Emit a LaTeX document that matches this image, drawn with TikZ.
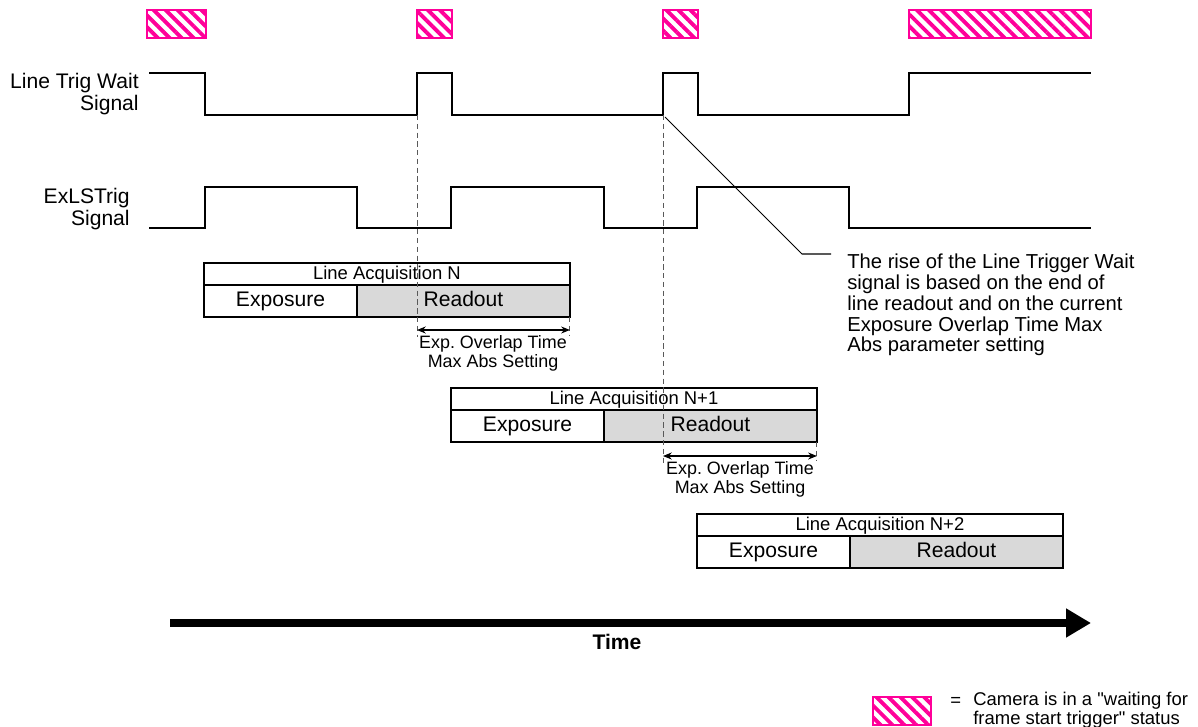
\documentclass[tikz,border=0pt]{standalone}
\usepackage{fontspec}
\setmainfont{Liberation Sans}[Ligatures=TeXOff]
\usetikzlibrary{arrows.meta,patterns.meta,positioning}
\definecolor{waitpink}{RGB}{255,0,153}
\definecolor{readgray}{RGB}{217,217,217}

\begin{document}
\begin{tikzpicture}[x=0.02cm,y=-0.02cm,
  waitbox/.style={draw=waitpink,line width=1.6pt,pattern={Lines[angle=-45,distance=4.8pt,line width=2.2pt]},pattern color=waitpink},
  sig/.style={line width=1.7pt},
  siglabel/.style={align=right,anchor=east,inner sep=0pt,font=\fontsize{12}{12.5}\selectfont},
  acqtitle/.style={draw,fill=white,line width=0.8pt,inner sep=0pt,outer sep=0pt,minimum width=7.32cm,minimum height=0.44cm,text height=1.6ex,text depth=0.4ex,font=\fontsize{10.5}{12}\selectfont},
  acqcell/.style={draw,line width=0.8pt,inner sep=0pt,outer sep=0pt,minimum height=0.64cm,text height=1.6ex,text depth=0.4ex,font=\fontsize{12}{14}\selectfont},
  guide/.style={dashed,gray!70!black,line width=0.5pt,dash pattern=on 3pt off 2pt},
  span/.style={{Stealth[length=5pt,width=4pt]}-{Stealth[length=5pt,width=4pt]},line width=0.6pt},
  spannote/.style={align=center,anchor=north,inner sep=0pt,font=\fontsize{10.2}{11}\selectfont}]
\useasboundingbox (0,0) rectangle (1198,727);

\foreach \xa/\xb in {147/206,417/452,663/698,909/1091}
  \draw[waitbox] (\xa,10) rectangle (\xb,38);

\node[siglabel] (waitlabel) at (139,94) {Line Trig Wait\\Signal};
\node[siglabel] (triglabel) at (130,209) {ExLSTrig\\Signal};

\draw[sig] (149,73) -| (205,115) -| (417,73) -| (452,115) -| (663,73) -| (698,115) -| (909,73) -- (1091,73);
\draw[sig] (149,228) -| (205,187) -| (357,228) -| (451,187) -| (604,228) -| (697,187) -| (849,228) -- (1091,228);

\foreach \n/\xa/\ya/\lab in {0/204/263/N,1/451/388/N+1,2/697/514/N+2} {
  \node[acqtitle,anchor=north west] (title\n) at (\xa,\ya) {Line Acquisition \lab};
  \node[acqcell,minimum width=3.06cm,anchor=north west] (exp\n) at (title\n.south west) {Exposure};
  \node[acqcell,minimum width=4.26cm,fill=readgray,anchor=north west] (read\n) at (exp\n.north east) {Readout};
}

\coordinate (riseA) at (417,115);
\coordinate (riseB) at (663,115);
\coordinate (ovA) at (417,330);
\coordinate (ovB) at (663,456);

\draw[guide] (riseA) -- (417,337);
\draw[guide] (read0.south east) -- ++(0,19);
\draw[span] (ovA) -- (ovA -| read0.east);
\node[spannote] (ovnoteA) at (493,335) {Exp.\ Overlap Time\\Max Abs Setting};

\draw[guide] (riseB) -- (663,463);
\draw[guide] (read1.south east) -- ++(0,19);
\draw[span] (ovB) -- (ovB -| read1.east);
\node[spannote] (ovnoteB) at (740,461) {Exp.\ Overlap Time\\Max Abs Setting};

\coordinate (elbow) at (802,254);
\node[anchor=north west,align=left,inner sep=0pt,font=\fontsize{11.5}{11.8}\selectfont] (risenote) at (847,254)
  {The rise of the Line Trigger Wait\\signal is based on the end of\\line readout and on the current\\Exposure Overlap Time Max\\Abs parameter setting};
\draw[line width=0.6pt] (665,117) -- (elbow) -- (831,254);

\coordinate (tstart) at (170,623);
\coordinate (tend) at (1091,623);
\draw[line width=4pt,-{Triangle[length=0.5cm,width=0.55cm]}] (tstart) -- (tend);
\node[font=\bfseries\fontsize{12}{14}\selectfont] (timelabel) at (617,642) {Time};

\draw[waitbox] (873,697) rectangle (931,725);
\node[anchor=west,inner sep=0pt,font=\fontsize{10.5}{10}\selectfont] (legendeq) at (950,702) {=};
\node[anchor=north west,align=left,inner sep=0pt,font=\fontsize{10.5}{9.2}\selectfont] (legendtext) at (973,692)
  {Camera is in a "waiting for\\frame start trigger" status};
\end{tikzpicture}
\end{document}
